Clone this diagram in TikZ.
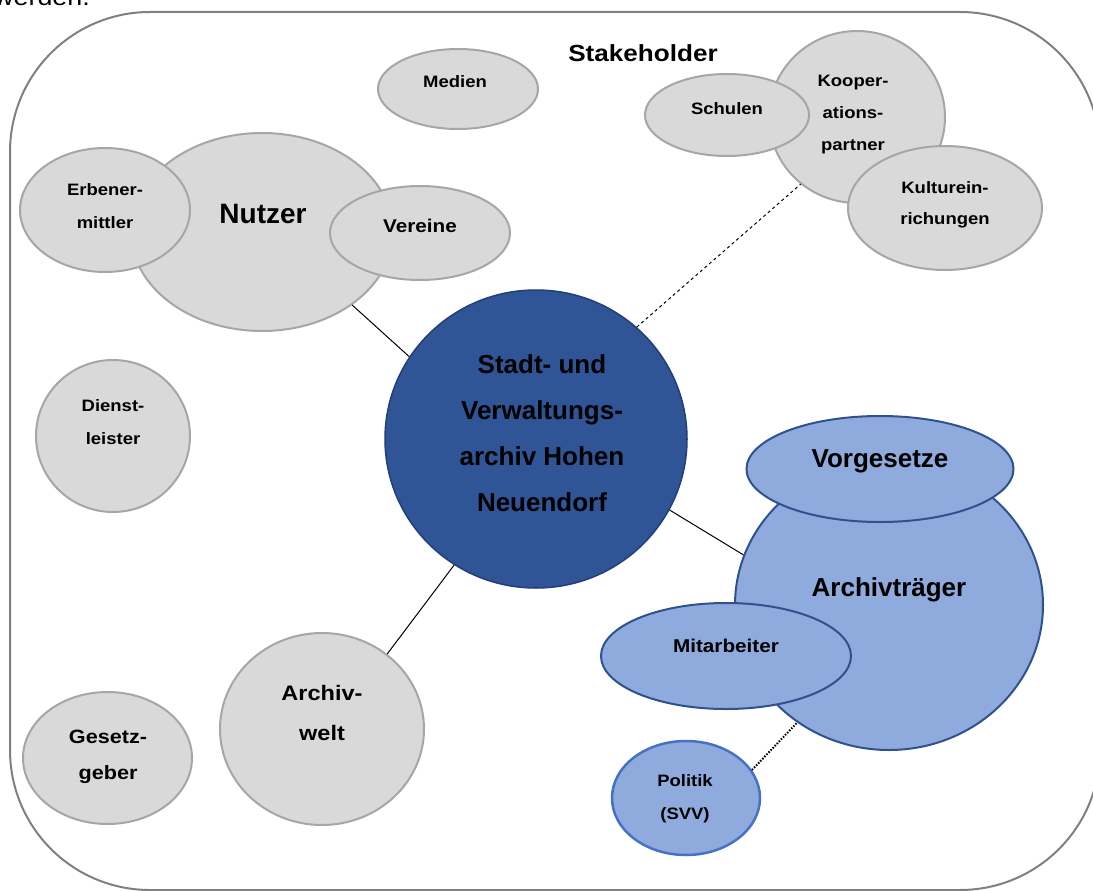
\documentclass[tikz,border=0pt]{standalone}
\usepackage{fontspec}
\setmainfont{Liberation Sans}
\newfontfamily\widefont{Liberation Sans}[FakeStretch=1.12]
\usetikzlibrary{shapes.geometric}
\definecolor{grayfill}{HTML}{D9D9D9}
\definecolor{grayline}{HTML}{A6A6A6}
\definecolor{frameline}{HTML}{808080}
\definecolor{centerfill}{HTML}{2F5597}
\definecolor{centerline}{HTML}{213F78}
\definecolor{bluefill}{HTML}{8FAADC}
\definecolor{blueline}{HTML}{2F528F}
\definecolor{politikline}{HTML}{4472C4}
\tikzset{
  gshape/.style={ellipse, draw=grayline, fill=grayfill, line width=2pt, inner sep=0pt},
  bshape/.style={ellipse, draw=blueline, fill=bluefill, line width=2pt, inner sep=0pt},
  smalllbl/.style={align=center, inner sep=0pt, font=\widefont\bfseries\fontsize{16.5}{33}\selectfont},
  biglbl/.style={align=center, inner sep=0pt, font=\bfseries\fontsize{26}{46}\selectfont},
  conn/.style={draw=black, line width=1pt},
  dashconn/.style={draw=black, line width=1pt, dash pattern=on 3pt off 3pt},
  dotconn/.style={draw=black, line width=2pt, dash pattern=on 1.5pt off 1.5pt}
}
\begin{document}
\begin{tikzpicture}[x=1pt,y=-1pt]
\useasboundingbox (0,0) rectangle (1093,891);
\node[anchor=base west, inner sep=0pt, font=\widefont\fontsize{24}{26}\selectfont] (cut) at (-6,6) {werden.};
\draw[frameline, line width=2pt, rounded corners=140pt] (10,12) rectangle (1100,890);
\node[anchor=center, inner sep=0pt, font=\widefont\bfseries\fontsize{23.3}{28}\selectfont] (stake) at (643,53) {Stakeholder};

% Medien
\node[gshape, minimum width=160, minimum height=80] (medien) at (458,89) {};
\node[smalllbl] (medienT) at (455,82) {Medien};

% Nutzer group
\node[gshape, minimum width=262, minimum height=198] (nutzer) at (262,232) {};
\node[gshape, minimum width=170, minimum height=124] (erben) at (105,210) {};
\node[gshape, minimum width=180, minimum height=94] (vereine) at (420,233) {};
\node[align=center, inner sep=0pt, font=\bfseries\fontsize{28}{30}\selectfont] (nutzerT) at (263,214) {Nutzer};
\node[smalllbl] (erbenT) at (105,206) {Erbener-\\mittler};
\node[smalllbl, font=\widefont\bfseries\fontsize{18.5}{33}\selectfont] (vereineT) at (420,226) {Vereine};

% Kooperationspartner group
\node[gshape, minimum width=176, minimum height=172] (koop) at (857,117) {};
\node[gshape, minimum width=164, minimum height=82] (schulen) at (727,115) {};
\node[gshape, minimum width=194, minimum height=124] (kultur) at (945,208) {};
\node[smalllbl, font=\widefont\bfseries\fontsize{16.5}{32}\selectfont] (koopT) at (853,115) {Kooper-\\ations-\\partner};
\node[smalllbl] (schulenT) at (727,109) {Schulen};
\node[smalllbl, font=\widefont\bfseries\fontsize{16.5}{31}\selectfont] (kulturT) at (945,205) {Kulturein-\\richungen};

% Dienstleister
\node[gshape, minimum width=154, minimum height=152] (dienst) at (113,436) {};
\node[smalllbl] (dienstT) at (113,422) {Dienst-\\leister};

% Central
\node[ellipse, draw=centerline, fill=centerfill, line width=1.5pt, inner sep=0pt, minimum width=302, minimum height=298] (central) at (536,439) {};
\node[biglbl] (centralT) at (542,433) {Stadt- und\\Verwaltungs-\\archiv Hohen\\Neuendorf};

% Archivwelt, Gesetzgeber
\node[gshape, minimum width=204, minimum height=192] (welt) at (322,729) {};
\node[align=center, inner sep=0pt, font=\widefont\bfseries\fontsize{21}{40}\selectfont] (weltT) at (322,713) {Archiv-\\welt};
\node[gshape, minimum width=169, minimum height=132] (gesetz) at (107.5,758) {};
\node[align=center, inner sep=0pt, font=\widefont\bfseries\fontsize{19.3}{36}\selectfont] (gesetzT) at (108,757) {Gesetz-\\geber};

% Archivtraeger group
\node[bshape, minimum width=308, minimum height=290] (traeger) at (889,605) {};
\node[bshape, minimum width=267, minimum height=106] (vorges) at (880,469) {};
\node[bshape, minimum width=250, minimum height=106] (mitarb) at (726,656) {};
\node[biglbl] (vorgesT) at (880,461) {Vorgesetze};
\node[biglbl] (traegerT) at (889,590) {Archivträger};
\node[smalllbl, font=\widefont\bfseries\fontsize{18.5}{33}\selectfont] (mitarbT) at (726,646) {Mitarbeiter};

% Politik
\node[ellipse, draw=politikline, fill=bluefill, line width=2.5pt, inner sep=0pt, minimum width=148, minimum height=114] (politik) at (686,798) {};
\node[smalllbl] (politikT) at (685,799) {Politik\\(SVV)};

% Connectors
\draw[conn] (nutzer.-39.5) -- (central.147);
\draw[conn] (central.237) -- (welt.49);
\draw[conn] (central.-28.8) -- (traeger.161.3);
\draw[dashconn] (central.48.9) -- (koop.230.8);
\draw[dotconn] (politik.23.6) -- (traeger.232.7);
\end{tikzpicture}
\end{document}
